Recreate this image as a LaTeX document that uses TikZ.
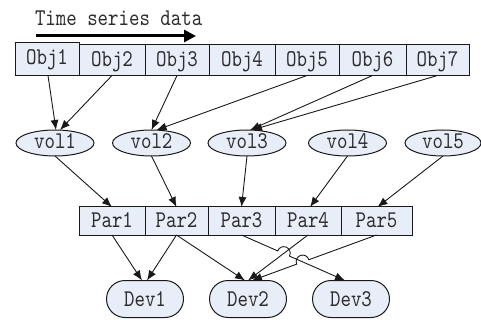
\documentclass[tikz,border=0pt]{standalone}
\usepackage{fontspec}
\newfontfamily\diagfont{lmmono10-regular.otf}[FakeStretch=0.83]
\usetikzlibrary{arrows.meta,shapes.geometric,shapes.misc,calc,intersections}
\definecolor{boxfill}{RGB}{232,238,248}
\definecolor{ink}{RGB}{25,25,25}
\definecolor{txt}{RGB}{45,45,45}
\begin{document}
\begin{tikzpicture}[x=1pt,y=-1pt,
  every node/.style={font=\diagfont\fontsize{24}{24}\selectfont, text=txt, outer sep=0pt, inner sep=0pt},
  objbox/.style={draw=ink, line width=1pt, fill=boxfill, rectangle, text height=15pt, text depth=3pt},
  volnode/.style={draw=ink, line width=1pt, fill=boxfill, ellipse, minimum width=78pt, minimum height=26pt, text height=15pt, text depth=3pt},
  devnode/.style={draw=ink, line width=1pt, fill=boxfill, rounded rectangle, minimum width=77pt, minimum height=37pt, text height=15pt, text depth=1pt},
  edge/.style={draw=ink, line width=0.9pt, -{Latex[length=10pt,width=8pt]}}
]
\useasboundingbox (0,0) rectangle (481,320);

% title
\node[anchor=base west] (title) at (35,26) {Time series data};
\coordinate (ta) at (36,36);
\coordinate (tb) at (196,36);
\draw[draw=black, line width=3pt, -{Triangle[length=12pt,width=12pt]}] (ta) -- (tb);

% Obj row
\node[objbox, minimum width=64pt, minimum height=33pt] (obj1) at (47,59) {Obj1};
\node[objbox, minimum width=66pt, minimum height=30.5pt] (obj2) at (112,60.25) {Obj2};
\node[objbox, minimum width=64pt, minimum height=30.5pt] (obj3) at (177,60.25) {Obj3};
\node[objbox, minimum width=66pt, minimum height=30.5pt] (obj4) at (242,60.25) {Obj4};
\node[objbox, minimum width=64pt, minimum height=30.5pt] (obj5) at (307,60.25) {Obj5};
\node[objbox, minimum width=67pt, minimum height=30.5pt] (obj6) at (372.5,60.25) {Obj6};
\node[objbox, minimum width=63pt, minimum height=30.5pt] (obj7) at (437.5,60.25) {Obj7};

% vol row
\node[volnode] (vol1) at (55,143) {vol1};
\node[volnode] (vol2) at (151.5,143) {vol2};
\node[volnode] (vol3) at (247,143) {vol3};
\node[volnode] (vol4) at (347.5,143) {vol4};
\node[volnode, minimum width=76pt] (vol5) at (443,143) {vol5};

% Par row
\node[objbox, minimum width=66pt, minimum height=28pt] (par1) at (112,221) {Par1};
\node[objbox, minimum width=63pt, minimum height=28pt] (par2) at (176.5,221) {Par2};
\node[objbox, minimum width=67pt, minimum height=28pt] (par3) at (241.5,221) {Par3};
\node[objbox, minimum width=66pt, minimum height=28pt] (par4) at (308,221) {Par4};
\node[objbox, minimum width=71pt, minimum height=28pt] (par5) at (376.5,221) {Par5};

% Dev row
\node[devnode] (dev1) at (145,299) {Dev1};
\node[devnode] (dev2) at (248,299) {Dev2};
\node[devnode] (dev3) at (351,299) {Dev3};

% Obj -> vol
\draw[edge] ([xshift=1pt]obj1.south) -- ([xshift=1pt]vol1.north);
\draw[edge] (obj2.south) -- ([xshift=5pt]vol1.north);
\draw[edge] (obj3.south) -- ([xshift=0pt]vol2.north);
\draw[edge] (obj5.south) -- ([xshift=5pt]vol2.north);
\draw[edge] (obj6.south) -- ([xshift=3pt]vol3.north);
\draw[edge] (obj7.south) -- ([xshift=5pt]vol3.north);

% vol -> Par
\draw[edge] (vol1.south) -- (par1.north);
\draw[edge] (vol2.south) -- (par2.north);
\draw[edge] (vol3.south) -- (par3.north);
\draw[edge] (vol4.south) -- ([xshift=2pt]par4.north);
\draw[edge] (vol5.south) -- ([xshift=1pt]par5.north);

% Par -> Dev
\draw[edge] (par1.south) -- ([xshift=-3pt]dev1.north);
\draw[edge] (par2.south) -- ([xshift=2pt]dev1.north);
\draw[edge] (par2.south) -- ([xshift=-3pt]dev2.north);
\draw[edge] (par4.south) -- (dev2.north);

\coordinate (t33) at ([xshift=-6pt]dev3.north);
\coordinate (t25) at ([xshift=4pt]dev2.north);
\path[name path=l33] (par3.south) -- (t33);
\path[name path=l34] (par4.south) -- (dev2.north);
\path[name path=l35] (par5.south) -- (t25);
\path[name intersections={of=l33 and l34, by=X1}];
\path[name intersections={of=l33 and l35, by=X2}];

\draw[edge] (par3.south) -- ($(X1)!6.5pt!(par3.south)$) to[bend left=90, looseness=1.8] ($(X1)!6.5pt!(t33)$) -- (t33);
\draw[edge] (par5.south) -- ($(X2)!6.5pt!(par5.south)$) to[bend right=90, looseness=1.8] ($(X2)!6.5pt!(t25)$) -- (t25);
\end{tikzpicture}
\end{document}
